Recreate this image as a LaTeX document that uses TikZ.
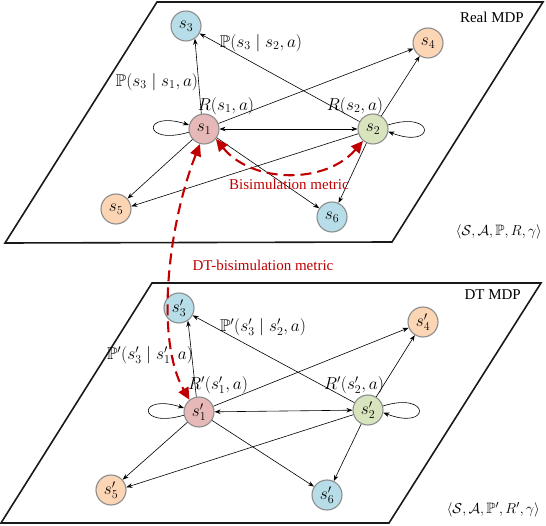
\documentclass[tikz,border=0pt]{standalone}
\usepackage{amssymb}
\usepackage{fontspec}
\setmainfont{Liberation Serif}
\usetikzlibrary{arrows.meta}
\definecolor{cpink}{HTML}{E6B9B8}
\definecolor{cgreen}{HTML}{D7E4BD}
\definecolor{cblue}{HTML}{B7DEE8}
\definecolor{corange}{HTML}{FCD5B5}
\definecolor{cborder}{HTML}{8C8C8C}
\definecolor{cred}{HTML}{C00000}
\tikzset{
  st/.style={circle, draw=cborder, line width=1.1pt, minimum size=30pt, inner sep=0pt, font=\fontsize{18}{20}\selectfont},
  plane/.style={draw=black!90, line width=1.6pt, line join=miter},
  trans/.style={-{Stealth[length=6pt,width=4.5pt]}, line width=0.6pt},
  both/.style={{Stealth[length=6pt,width=4.5pt]}-{Stealth[length=6pt,width=4.5pt]}, line width=0.6pt},
  mlab/.style={inner sep=0pt, font=\fontsize{17}{20}\selectfont},
  tuplab/.style={inner sep=0pt, anchor=east, font=\fontsize{15}{18}\selectfont},
  tlab/.style={inner sep=0pt, font=\fontsize{15}{18}\selectfont},
  redarr/.style={draw=cred, line width=2.1pt, dash pattern=on 11pt off 6pt,
    {Triangle[length=12pt,width=11pt]}-{Triangle[length=12pt,width=11pt]}},
}
\begin{document}
\begin{tikzpicture}[x=1pt,y=-1pt]
\useasboundingbox (0,0) rectangle (546,526);
% ---------- Real MDP plane ----------
\draw[plane] (157,2) -- (543,2) -- (392,242) -- (5,243) -- cycle;
\node[st, fill=cpink]   (s1) at (204,129) {$s_1$};
\node[st, fill=cgreen]  (s2) at (373,129) {$s_2$};
\node[st, fill=cblue]   (s3) at (186,26)  {$s_3$};
\node[st, fill=corange] (s4) at (428,43)  {$s_4$};
\node[st, fill=corange] (s5) at (116,209) {$s_5$};
\node[st, fill=cblue]   (s6) at (332,217) {$s_6$};
\draw[trans] (s1.100) -- (s3.-55);
\draw[trans] (s2) -- (s3);
\draw[trans] (s1) -- (s4);
\draw[trans] (s2) -- (s4);
\draw[both] (s1) -- (s2);
\draw[trans] (s1) -- (s5);
\draw[trans] (s2) -- (s5.10);
\draw[trans] (s1) -- (s6);
\draw[trans] (s2) -- (s6);
\draw[trans] (s1.192) .. controls (142,146) and (142,110) .. (s1.165);
\draw[trans] (s2.15) .. controls (436,110) and (436,150) .. (s2.-10);
\node[mlab] (ps2) at (261,43) {$\mathbb{P}(s_3\mid s_2, a)$};
\node[mlab] (ps1) at (157,82) {$\mathbb{P}(s_3\mid s_1, a)$};
\node[mlab] (r1) at (226,106) {$R(s_1, a)$};
\node[mlab] (r2) at (355,106) {$R(s_2, a)$};
\node[tlab, anchor=east] (real) at (524,17) {Real MDP};
\node[tuplab] (tup1) at (542,232) {$\langle\mathcal{S},\mathcal{A},\mathbb{P},R,\gamma\rangle$};
% ---------- DT MDP plane ----------
\draw[plane] (152,283) -- (541,283) -- (389,523) -- (1,523) -- cycle;
\node[st, fill=cpink]   (t1) at (199,412) {$s'_1$};
\node[st, fill=cgreen]  (t2) at (368,410) {$s'_2$};
\node[st, fill=cblue]   (t3) at (179,308) {$s'_3$};
\node[st, fill=corange] (t4) at (423,322) {$s'_4$};
\node[st, fill=corange] (t5) at (111,490) {$s'_5$};
\node[st, fill=cblue]   (t6) at (327,495) {$s'_6$};
\draw[trans] (t1.100) -- (t3.-55);
\draw[trans] (t2) -- (t3);
\draw[trans] (t1) -- (t4);
\draw[trans] (t2) -- (t4);
\draw[both] (t1) -- (t2);
\draw[trans] (t1) -- (t5);
\draw[trans] (t2) -- (t5.10);
\draw[trans] (t1) -- (t6);
\draw[trans] (t2) -- (t6);
\draw[trans] (t1.192) .. controls (137,429) and (137,393) .. (t1.165);
\draw[trans] (t2.15) .. controls (431,391) and (431,431) .. (t2.-10);
\node[mlab] (pt2) at (263,327) {$\mathbb{P}'(s'_3\mid s'_2, a)$};
\node[mlab] (pt1) at (150,355) {$\mathbb{P}'(s'_3\mid s'_1, a)$};
\node[mlab] (rt1) at (218,385) {$R'(s'_1, a)$};
\node[mlab] (rt2) at (354,385) {$R'(s'_2, a)$};
\node[tlab, anchor=east] (dt) at (521,295) {DT MDP};
\node[tuplab] (tup2) at (540,510) {$\langle\mathcal{S},\mathcal{A},\mathbb{P}',R',\gamma\rangle$};
% ---------- metrics ----------
\draw[redarr] (s1.-40) to[bend right=50] (s2.230);
\node[tlab, text=cred] (bis) at (289,184) {Bisimulation metric};
\draw[redarr] (s1.255) .. controls (168,225) and (155,340) .. (t1.128);
\node[tlab, text=cred] (dtbis) at (263,265) {DT-bisimulation metric};
\end{tikzpicture}
\end{document}
